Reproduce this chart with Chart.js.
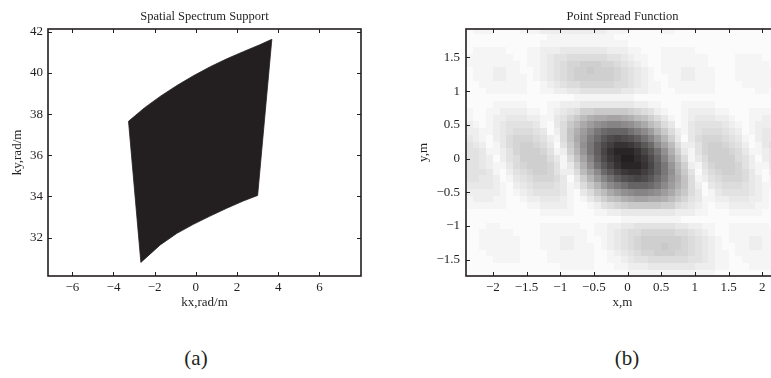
<!DOCTYPE html>
<html><head><meta charset="utf-8">
<script src="https://cdn.jsdelivr.net/npm/chart.js@4.4.1/dist/chart.umd.min.js"></script>
<style>
html,body{margin:0;padding:0;background:#ffffff;width:771px;height:378px;overflow:hidden;}
#wrapA{position:absolute;left:0;top:0;width:390px;height:320px;}
#wrapB{position:absolute;left:390px;top:0;width:420px;height:320px;}
.cap{position:absolute;font-family:"Liberation Serif","Times New Roman",serif;font-size:21px;line-height:24px;color:#231f20;transform:translate(-50%,-50%);white-space:nowrap;}
</style></head><body>
<div id="wrapA"><canvas id="chartA"></canvas></div>
<div id="wrapB"><canvas id="chartB"></canvas></div>
<div class="cap" style="left:196px;top:358px">(a)</div>
<div class="cap" style="left:627px;top:358px">(b)</div>
<script>
// ---------- (a) Spatial spectrum support: boundary points (kx, ky) ----------
const supportKx = [-3.27, -2.50, -1.70, -0.90, -0.10, 0.70, 1.50, 2.30, 3.10, 3.69, 3.00, 2.30, 1.50, 0.69, -0.12, -0.92, -1.73, -2.67, -3.27];
const supportKy = [37.65, 38.30, 38.88, 39.40, 39.87, 40.30, 40.68, 41.03, 41.36, 41.63, 34.05, 33.78, 33.43, 33.05, 32.65, 32.21, 31.65, 30.80, 37.65];
const kxTicks = [-6, -4, -2, 0, 2, 4, 6];
const kyTicks = [32, 34, 36, 38, 40, 42];

// ---------- (b) Point spread function ----------
const psfX = [-2.35,-2.25,-2.15,-2.05,-1.95,-1.85,-1.75,-1.65,-1.55,-1.45,-1.35,-1.25,-1.15,-1.05,-0.95,-0.85,-0.75,-0.65,-0.55,-0.45,-0.35,-0.25,-0.15,-0.05,0.05,0.15,0.25,0.35,0.45,0.55,0.65,0.75,0.85,0.95,1.05,1.15,1.25,1.35,1.45,1.55,1.65,1.75,1.85,1.95,2.05,2.15,2.25,2.35];
const psfY = [1.9,1.8,1.7,1.6,1.5,1.4,1.3,1.2,1.1,1.0,0.9,0.8,0.7,0.6,0.5,0.4,0.3,0.2,0.1,0.0,-0.1,-0.2,-0.3,-0.4,-0.5,-0.6,-0.7,-0.8,-0.9,-1.0,-1.1,-1.2,-1.3,-1.4,-1.5,-1.6,-1.7];
// darkness per cell, one base-36 digit per column (0 = white ... z = 35 = black)
const psfLevels = [
"011100001112222222222111000001100000000000000000",
"000000000000111111111100000000000000000000000000",
"000000000001111111111111000000000000000000000000",
"011111000112223333333222110001111100000000000000",
"111111100112344555555443211001111111000011110000",
"111111110112345667776654321001111111000011111000",
"011122110012345677877765432101112211100011111100",
"011122111012345677777765432100112211100011111100",
"001111111001234556666655432110111111100001111100",
"000111111001122334444443322110011111100000011000",
"000000000000000011111111100000000000000000000000",
"000011111000112223333333322110001111100000000000",
"100112222110123457788888765421001222211000111111",
"10012233322113468acddeedca9753101233322100112221",
"2101234444310358adfhijjihfda85301344443210122222",
"2211234555430259cfilnooomkifb8521345554320123333",
"3210235666542159dgknqstsrpmjfb730356665431023344",
"4320135677653048chlpsuwwvtqniea52246776542013444",
"4431124677764127bglptwyyywtqmhc73146777653112344",
"44320245777753159ejosvxzzxvsoje95135777754202344",
"44321135677764137chmqtwyyywtplgb7214677764211344",
"44431024567764225aeinqtvwwusplhc8403567765310234",
"443320134566653037bfjmprstsqnkgd9512456665320123",
"3333210234555431258bfikmooonlifc9520345554321122",
"22222101234444310358adfhijjihfda8530134444321012",
"1222110012233321013579acdeeddca86431122333221001",
"111111000112222100124567888887754321011222211001",
"000000000001111100011223333333322211000111110000",
"000000000000000000000001111111110000000000000000",
"000110000001111110011223344444433221100111111000",
"001111100001111111011234556666655432100111111100",
"001111110001112211001234567777776543210111221110",
"001111110001112211101234567778776543210011221110",
"000111110000111111100123456677766543211011111111",
"000011110000111111100112344555555443211001111111",
"000000000000001111100011222333333322211000111110",
"000000000000000000000000111111111111100000000000"
];
const xTicksB = [-2, -1.5, -1, -0.5, 0, 0.5, 1, 1.5, 2];
const yTicksB = [-1.5, -1, -0.5, 0, 0.5, 1, 1.5];

// ---------- styling ----------
const INK = '#231f20';
const SERIF = '"Liberation Serif","Times New Roman",serif';
Chart.defaults.color = INK;
Chart.defaults.font.family = SERIF;

const fmt = v => String(v).replace('-', '\u2212');
const setTicks = arr => scale => { scale.ticks = arr.map(v => ({value: v})); };

function shade(t) {
  const r = Math.round(251 - t * (251 - 35));
  const g = Math.round(251 - t * (251 - 31));
  const b = Math.round(251 - t * (251 - 32));
  return 'rgb(' + r + ',' + g + ',' + b + ')';
}

const framePlugin = {
  id: 'frame',
  afterDraw(chart) {
    const {ctx, chartArea: a, scales} = chart;
    ctx.save();
    ctx.strokeStyle = INK;
    ctx.lineWidth = 1;
    const tl = 4;
    ctx.beginPath();
    scales.x.ticks.forEach(t => {
      const px = Math.round(scales.x.getPixelForValue(t.value)) + 0.5;
      ctx.moveTo(px, a.bottom); ctx.lineTo(px, a.bottom - tl);
      ctx.moveTo(px, a.top); ctx.lineTo(px, a.top + tl);
    });
    scales.y.ticks.forEach(t => {
      const py = Math.round(scales.y.getPixelForValue(t.value)) + 0.5;
      ctx.moveTo(a.left, py); ctx.lineTo(a.left + tl, py);
      ctx.moveTo(a.right, py); ctx.lineTo(a.right - tl, py);
    });
    ctx.stroke();
    ctx.lineWidth = 1.6;
    ctx.strokeRect(a.left, a.top, a.right - a.left, a.bottom - a.top);
    ctx.restore();
  }
};

const heatPlugin = {
  id: 'heat',
  beforeDatasetsDraw(chart) {
    const {ctx, chartArea: a, scales: {x, y}} = chart;
    const cells = chart.data.datasets[0].data;
    const hx = Math.abs(psfX[1] - psfX[0]) / 2;
    const hy = Math.abs(psfY[0] - psfY[1]) / 2;
    ctx.save();
    ctx.beginPath();
    ctx.rect(a.left, a.top, a.right - a.left, a.bottom - a.top);
    ctx.clip();
    cells.forEach(c => {
      const x0 = Math.round(x.getPixelForValue(c.x - hx));
      const x1 = Math.round(x.getPixelForValue(c.x + hx));
      const y0 = Math.round(y.getPixelForValue(c.y + hy));
      const y1 = Math.round(y.getPixelForValue(c.y - hy));
      ctx.fillStyle = shade(c.v / 35);
      ctx.fillRect(x0, y0, x1 - x0, y1 - y0);
    });
    ctx.restore();
  }
};

const tickFont = {family: SERIF, size: 13};
const labelFont = {family: SERIF, size: 13, lineHeight: 1.2};
const titleFont = {family: SERIF, size: 12.5, weight: 'normal', lineHeight: 1.2};

// ---------- chart (a) ----------
new Chart(document.getElementById('chartA'), {
  type: 'scatter',
  data: {
    datasets: [{
      data: supportKx.map((kx, i) => ({x: kx, y: supportKy[i]})),
      showLine: true,
      fill: 'shape',
      backgroundColor: INK,
      borderColor: INK,
      borderWidth: 0.8,
      pointRadius: 0,
      tension: 0
    }]
  },
  options: {
    responsive: true, maintainAspectRatio: false, animation: false,
    layout: {padding: {top: 9, left: 0, right: 29, bottom: 9.2}},
    plugins: {
      legend: {display: false}, tooltip: {enabled: false},
      title: {display: true, fullSize: false, text: 'Spatial Spectrum Support', color: INK, font: titleFont, padding: {top: 0, bottom: 5}}
    },
    scales: {
      x: {
        type: 'linear', min: -7.18, max: 8.02,
        afterBuildTicks: setTicks(kxTicks),
        afterFit: s => { s.height = 34.8; },
        grid: {display: false, drawTicks: false}, border: {display: false},
        ticks: {color: INK, font: tickFont, padding: 4, maxRotation: 0, autoSkip: false, callback: fmt},
        title: {display: true, text: 'kx,rad/m', color: INK, font: labelFont, padding: {top: 0, bottom: 0}}
      },
      y: {
        type: 'linear', min: 30.14, max: 42.13,
        afterBuildTicks: setTicks(kyTicks),
        afterFit: s => { s.width = 48; },
        grid: {display: false, drawTicks: false}, border: {display: false},
        ticks: {color: INK, font: tickFont, padding: 5, autoSkip: false, callback: fmt},
        title: {display: true, text: 'ky,rad/m', color: INK, font: labelFont, padding: {top: 10, bottom: 0}}
      }
    }
  },
  plugins: [framePlugin]
});

// ---------- chart (b) ----------
const psfCells = [];
psfLevels.forEach((row, r) => {
  psfX.forEach((xv, c) => { psfCells.push({x: xv, y: psfY[r], v: parseInt(row[c], 36)}); });
});

new Chart(document.getElementById('chartB'), {
  type: 'scatter',
  data: {datasets: [{data: psfCells, pointRadius: 0, showLine: false}]},
  options: {
    responsive: true, maintainAspectRatio: false, animation: false,
    layout: {padding: {top: 9, left: 0, right: 31, bottom: 9.2}},
    plugins: {
      legend: {display: false}, tooltip: {enabled: false},
      title: {display: true, fullSize: false, text: 'Point Spread Function', color: INK, font: titleFont, padding: {top: 0, bottom: 5}}
    },
    scales: {
      x: {
        type: 'linear', min: -2.4, max: 2.25,
        afterBuildTicks: setTicks(xTicksB),
        afterFit: s => { s.height = 34.8; },
        grid: {display: false, drawTicks: false}, border: {display: false},
        ticks: {color: INK, font: tickFont, padding: 4, maxRotation: 0, autoSkip: false, callback: fmt},
        title: {display: true, text: 'x,m', color: INK, font: labelFont, padding: {top: 0, bottom: 0}}
      },
      y: {
        type: 'linear', min: -1.74, max: 1.92,
        afterBuildTicks: setTicks(yTicksB),
        afterFit: s => { s.width = 76; },
        grid: {display: false, drawTicks: false}, border: {display: false},
        ticks: {color: INK, font: tickFont, padding: 6, autoSkip: false, callback: fmt},
        title: {display: true, text: 'y,m', color: INK, font: labelFont, padding: {top: 26, bottom: 0}}
      }
    }
  },
  plugins: [heatPlugin, framePlugin]
});
</script>
</body></html>
